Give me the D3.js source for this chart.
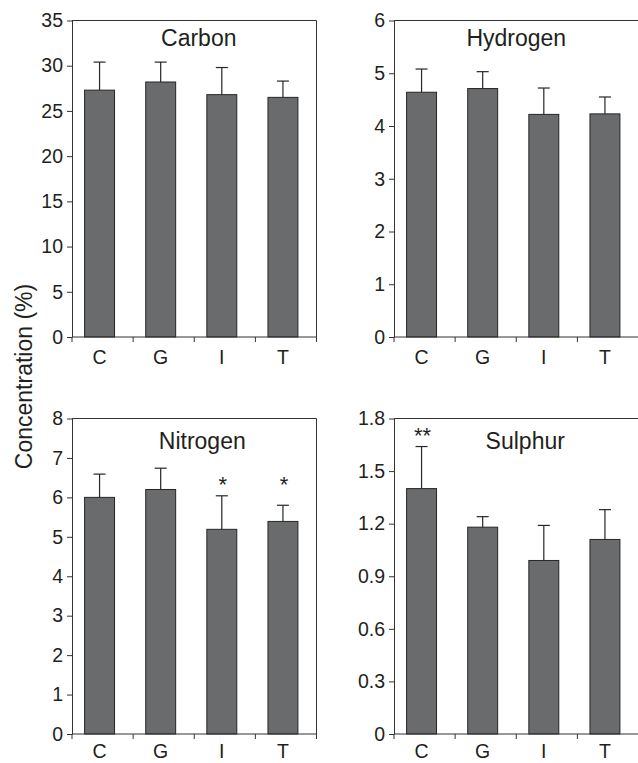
<!DOCTYPE html>
<html>
<head>
<meta charset="utf-8">
<script src="https://cdn.jsdelivr.net/npm/d3@7"></script>
<style>
	body { margin: 0; background: #fff; }
	svg { display: block; font-family: "Liberation Sans", Arial, sans-serif; }
</style>
</head>
<body>
<div id="chart"></div>
<script>
// Data
var categories = [ 'C', 'G', 'I', 'T' ];
var elements = [ 'Carbon', 'Hydrogen', 'Nitrogen', 'Sulphur' ];

var carbonMean = [ 27.3, 28.2, 26.8, 26.5 ];
var carbonErr = [ 3.1, 2.2, 3.0, 1.8 ];
var hydrogenMean = [ 4.64, 4.71, 4.22, 4.23 ];
var hydrogenErr = [ 0.44, 0.32, 0.50, 0.32 ];
var nitrogenMean = [ 6.0, 6.2, 5.19, 5.39 ];
var nitrogenErr = [ 0.59, 0.54, 0.85, 0.41 ];
var sulphurMean = [ 1.40, 1.18, 0.99, 1.11 ];
var sulphurErr = [ 0.24, 0.06, 0.20, 0.17 ];

var nitrogenStars = [ '', '', '*', '*' ];
var sulphurStars = [ '**', '', '', '' ];
var noStars = [ '', '', '', '' ];

var yMax = [ 35, 6, 8, 1.8 ];
var yStep = [ 5, 1, 1, 0.3 ];

var means = [ carbonMean, hydrogenMean, nitrogenMean, sulphurMean ];
var errs = [ carbonErr, hydrogenErr, nitrogenErr, sulphurErr ];
var stars = [ noStars, noStars, nitrogenStars, sulphurStars ];

// Layout (pixels)
var width = 638, height = 763;
var panelW = 244.5;
var colX = [ 72, 394 ];
var rowY = [ [ 20.5, 337 ], [ 418.5, 734 ] ];
var rowLabelPad = [ 13.5, 10.5 ];
var titleDx = [ 4.5, 0, 8, 9 ];
var titleDy = [ 25, 25.5, 30, 30 ];
var barShift = -3;
var ink = '#231f20';

var svg = d3.select( '#chart' ).append( 'svg' )
	.attr( 'width', width )
	.attr( 'height', height );

elements.forEach( function( name, i )
{
	var row = Math.floor( i / 2 );
	var x0 = colX[ i % 2 ];
	var x1 = x0 + panelW;
	var yTop = rowY[ row ][ 0 ];
	var yBot = rowY[ row ][ 1 ];

	var x = d3.scaleBand()
		.domain( categories )
		.range( [ x0, x1 ] )
		.paddingInner( 0.51 )
		.paddingOuter( 0.255 );

	var y = d3.scaleLinear()
		.domain( [ 0, yMax[ i ] ] )
		.range( [ yBot, yTop ] );

	var rows = categories.map( function( c, j ) {
		return { cat: c, mean: means[ i ][ j ], err: errs[ i ][ j ], star: stars[ i ][ j ] };
	} );

	var g = svg.append( 'g' ).attr( 'class', 'panel' );

	// frame: top and right edges
	g.append( 'path' )
		.attr( 'd', 'M' + x0 + ',' + y( yMax[ i ] ) + 'H' + x1 + 'V' + yBot )
		.attr( 'fill', 'none' )
		.attr( 'stroke', '#333' )
		.attr( 'stroke-width', 1 );

	// bars
	g.selectAll( 'rect.bar' )
		.data( rows )
		.enter()
		.append( 'rect' )
		.attr( 'class', 'bar' )
		.attr( 'x', function( d ) { return x( d.cat ) + barShift; } )
		.attr( 'width', x.bandwidth() )
		.attr( 'y', function( d ) { return y( d.mean ); } )
		.attr( 'height', function( d ) { return yBot - y( d.mean ); } )
		.attr( 'fill', '#6a6b6d' )
		.attr( 'stroke', '#262626' )
		.attr( 'stroke-width', 1 );

	// error bars (upper only)
	var capHalf = 6;
	var cx = function( d ) { return x( d.cat ) + barShift + x.bandwidth() / 2; };
	var eb = g.selectAll( 'g.err' )
		.data( rows )
		.enter()
		.append( 'g' )
		.attr( 'class', 'err' )
		.attr( 'stroke', '#262626' )
		.attr( 'stroke-width', 1.2 );

	eb.append( 'line' )
		.attr( 'x1', cx )
		.attr( 'x2', cx )
		.attr( 'y1', function( d ) { return y( d.mean ); } )
		.attr( 'y2', function( d ) { return y( d.mean + d.err ); } );

	eb.append( 'line' )
		.attr( 'x1', function( d ) { return cx( d ) - capHalf; } )
		.attr( 'x2', function( d ) { return cx( d ) + capHalf; } )
		.attr( 'y1', function( d ) { return y( d.mean + d.err ); } )
		.attr( 'y2', function( d ) { return y( d.mean + d.err ); } );

	// significance marks, all at one height above the highest marked error bar
	var marked = rows.filter( function( d ) { return d.star; } );
	if( marked.length > 0 )
	{
		var top = d3.max( marked, function( d ) { return d.mean + d.err; } );
		g.selectAll( 'text.star' )
			.data( marked )
			.enter()
			.append( 'text' )
			.attr( 'class', 'star' )
			.attr( 'x', function( d ) { return cx( d ) + 1; } )
			.attr( 'y', y( top ) - 4 )
			.attr( 'text-anchor', 'middle' )
			.attr( 'font-size', 22 )
			.attr( 'fill', ink )
			.text( function( d ) { return d.star; } );
	}

	// y axis
	var fmt = yStep[ i ] < 1
		? function( v ) { return v === 0 ? '0' : d3.format( '.1f' )( v ); }
		: d3.format( 'd' );
	var yTicks = d3.range( 0, yMax[ i ] + yStep[ i ] / 2, yStep[ i ] );

	var ya = g.append( 'g' )
		.attr( 'transform', 'translate(' + x0 + ',0)' )
		.call( d3.axisLeft( y ).tickValues( yTicks ).tickFormat( fmt ).tickSize( 5 ).tickPadding( 4 ).tickSizeOuter( 0 ) );
	ya.selectAll( 'path, line' ).attr( 'stroke', '#333' );
	ya.selectAll( 'text' ).attr( 'font-size', 19.5 ).attr( 'fill', ink ).attr( 'font-family', null );

	// x axis: labels under bars, ticks at band boundaries
	var xa = g.append( 'g' )
		.attr( 'transform', 'translate(' + barShift + ',' + yBot + ')' )
		.call( d3.axisBottom( x ).tickSize( 0 ).tickPadding( rowLabelPad[ row ] ).tickSizeOuter( 0 ) );
	xa.select( 'path' ).remove();
	xa.selectAll( 'text' ).attr( 'font-size', 19.5 ).attr( 'fill', ink ).attr( 'font-family', null );

	g.append( 'line' )
		.attr( 'x1', x0 ).attr( 'x2', x1 )
		.attr( 'y1', yBot ).attr( 'y2', yBot )
		.attr( 'stroke', '#333' );

	var bounds = d3.range( categories.length + 1 ).map( function( k ) { return x0 + k * x.step(); } );
	g.selectAll( 'line.xtick' )
		.data( bounds )
		.enter()
		.append( 'line' )
		.attr( 'class', 'xtick' )
		.attr( 'x1', function( d ) { return d; } )
		.attr( 'x2', function( d ) { return d; } )
		.attr( 'y1', yBot )
		.attr( 'y2', yBot + 5 )
		.attr( 'stroke', '#333' );

	// panel title
	g.append( 'text' )
		.attr( 'x', ( x0 + x1 ) / 2 + titleDx[ i ] )
		.attr( 'y', yTop + titleDy[ i ] )
		.attr( 'text-anchor', 'middle' )
		.attr( 'font-size', 23 )
		.attr( 'fill', ink )
		.text( name );
} );

// shared y-axis label
svg.append( 'text' )
	.attr( 'transform', 'translate(32,376.5) rotate(-90)' )
	.attr( 'text-anchor', 'middle' )
	.attr( 'font-size', 23 )
	.attr( 'fill', ink )
	.text( 'Concentration (%)' );
</script>
</body>
</html>
